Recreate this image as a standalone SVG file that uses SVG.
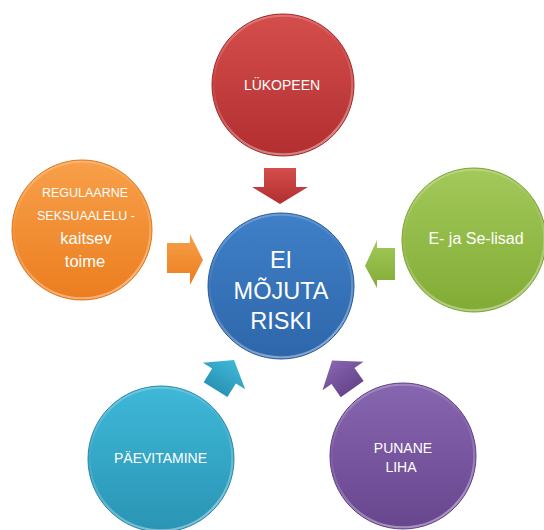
<svg xmlns="http://www.w3.org/2000/svg" width="544" height="530" viewBox="0 0 544 530">
<style>
.t{font-family:"Liberation Sans",Arial,sans-serif;fill:#ffffff;text-anchor:middle}
.rim{fill:none;stroke:url(#rimG);stroke-width:2.5}
.edge{fill:none;stroke-width:1}
</style>
<defs>
<linearGradient id="rimG" x1="0" y1="0" x2="0.3" y2="1">
<stop offset="0" stop-color="#fff" stop-opacity="0.3"/>
<stop offset="0.45" stop-color="#fff" stop-opacity="0.03"/>
<stop offset="1" stop-color="#fff" stop-opacity="0.4"/>
</linearGradient>
<linearGradient id="gRed" x1="0" y1="0" x2="0" y2="1">
<stop offset="0" stop-color="#d44e4c"/><stop offset="1" stop-color="#b22e2f"/>
</linearGradient>
<linearGradient id="gBlue" x1="0" y1="0" x2="0" y2="1">
<stop offset="0" stop-color="#3f80c8"/><stop offset="1" stop-color="#2e66aa"/>
</linearGradient>
<linearGradient id="gOrange" x1="0" y1="0" x2="0" y2="1">
<stop offset="0" stop-color="#f7a04a"/><stop offset="1" stop-color="#ec7d1f"/>
</linearGradient>
<linearGradient id="gGreen" x1="0" y1="0" x2="0" y2="1">
<stop offset="0" stop-color="#a2c95a"/><stop offset="1" stop-color="#82ab35"/>
</linearGradient>
<linearGradient id="gTeal" x1="0" y1="0" x2="0" y2="1">
<stop offset="0" stop-color="#3fb8d8"/><stop offset="1" stop-color="#2a94b4"/>
</linearGradient>
<linearGradient id="gPurple" x1="0" y1="0" x2="0" y2="1">
<stop offset="0" stop-color="#8766b0"/><stop offset="1" stop-color="#68468e"/>
</linearGradient>
</defs>
<rect width="544" height="530" fill="#ffffff"/>

<g id="connectors">
<polygon points="264,168 296,168 296,187 308,187 280,204 252,187 264,187" fill="url(#gRed)"/>
<polygon points="167,243 190,243 190,234 203,260 190,285 190,273 167,273" fill="url(#gOrange)"/>
<polygon points="395,248 377,248 377,240 365,266 377,288 377,280 395,280" fill="url(#gGreen)"/>
<polygon transform="translate(224,376) rotate(32)" points="-14,16 -14,0 -25,0 0,-19 25,0 14,0 14,16" fill="url(#gTeal)"/>
<polygon transform="translate(343,376) rotate(-35)" points="-14,16 -14,0 -25,0 0,-19 25,0 14,0 14,16" fill="url(#gPurple)"/>
</g>

<g id="node-center">
<circle cx="281" cy="286" r="73" fill="url(#gBlue)"/>
<circle cx="281" cy="286" r="71.5" class="rim"/>
<circle cx="281" cy="286" r="73" class="edge" stroke="#27599a"/>
<text class="t" x="281" y="268" font-size="23.5">EI</text>
<text class="t" x="281" y="299" font-size="23.5">MÕJUTA</text>
<text class="t" x="281" y="329" font-size="23.5">RISKI</text>
</g>

<g id="node-lukopeen">
<circle cx="283" cy="85" r="71" fill="url(#gRed)"/>
<circle cx="283" cy="85" r="69.5" class="rim"/>
<circle cx="283" cy="85" r="71" class="edge" stroke="#a52829"/>
<text class="t" x="282" y="90" font-size="14">LÜKOPEEN</text>
</g>

<g id="node-regulaarne">
<circle cx="82" cy="230" r="70" fill="url(#gOrange)"/>
<circle cx="82" cy="230" r="68.5" class="rim"/>
<circle cx="82" cy="230" r="70" class="edge" stroke="#e27618"/>
<text class="t" x="85" y="197" font-size="12.5">REGULAARNE</text>
<text class="t" x="86" y="220" font-size="12.5">SEKSUAALELU -</text>
<text class="t" x="86" y="244" font-size="16.5">kaitsev</text>
<text class="t" x="85" y="267" font-size="16.5">toime</text>
</g>

<g id="node-lisad">
<circle cx="474" cy="240" r="72" fill="url(#gGreen)"/>
<circle cx="474" cy="240" r="70.5" class="rim"/>
<circle cx="474" cy="240" r="72" class="edge" stroke="#7aa22f"/>
<text class="t" x="476" y="244" font-size="16">E- ja Se-lisad</text>
</g>

<g id="node-paevitamine">
<circle cx="161" cy="459" r="73" fill="url(#gTeal)"/>
<circle cx="161" cy="459" r="71.5" class="rim"/>
<circle cx="161" cy="459" r="73" class="edge" stroke="#2789a8"/>
<text class="t" x="160.5" y="463" font-size="14">PÄEVITAMINE</text>
</g>

<g id="node-punane">
<circle cx="403" cy="456" r="73" fill="url(#gPurple)"/>
<circle cx="403" cy="456" r="71.5" class="rim"/>
<circle cx="403" cy="456" r="73" class="edge" stroke="#5f3f85"/>
<text class="t" x="403" y="453" font-size="14">PUNANE</text>
<text class="t" x="401" y="472" font-size="14">LIHA</text>
</g>
</svg>
